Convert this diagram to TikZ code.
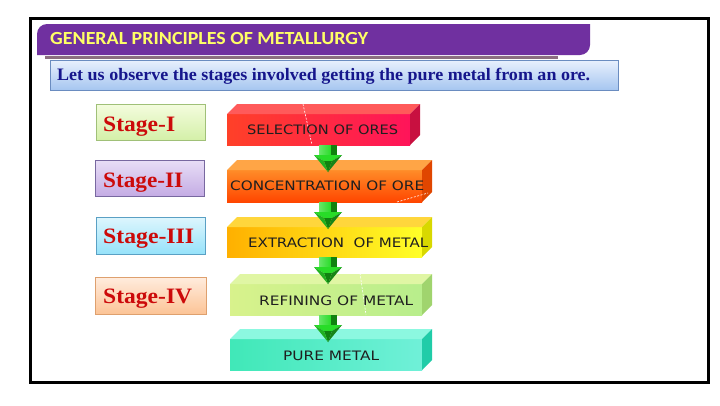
\documentclass[tikz,border=0pt]{standalone}
\usepackage{graphicx}
\usepackage{fontspec}
\setmainfont{Liberation Serif}
\newfontfamily\titlefont{Carlito}
\newfontfamily\blockfont{DejaVu Sans}
\usetikzlibrary{calc}
\definecolor{banner}{RGB}{112,48,160}
\definecolor{titleyel}{RGB}{255,255,102}
\definecolor{mauve}{RGB}{140,110,128}
\definecolor{navy}{RGB}{22,22,140}
\definecolor{stagered}{RGB}{204,10,10}
\definecolor{arrowg}{RGB}{40,220,40}
\definecolor{arrowd}{RGB}{16,130,16}
% subtitle box
\definecolor{subd}{RGB}{106,140,192}\definecolor{subt}{RGB}{232,240,253}\definecolor{subb}{RGB}{166,198,240}
% stage boxes
\definecolor{sAd}{RGB}{160,192,120}\definecolor{sAt}{RGB}{244,252,222}\definecolor{sAb}{RGB}{212,240,168}
\definecolor{sBd}{RGB}{120,104,160}\definecolor{sBt}{RGB}{232,222,246}\definecolor{sBb}{RGB}{196,172,228}
\definecolor{sCd}{RGB}{90,160,196}\definecolor{sCt}{RGB}{222,246,253}\definecolor{sCb}{RGB}{150,226,250}
\definecolor{sDd}{RGB}{222,160,110}\definecolor{sDt}{RGB}{255,236,222}\definecolor{sDb}{RGB}{252,196,150}
% blocks: front1, front2, top, side
\definecolor{bAa}{RGB}{255,64,40}\definecolor{bAb}{RGB}{255,20,90}\definecolor{bAt}{RGB}{255,90,90}\definecolor{bAs}{RGB}{200,16,64}
\definecolor{bBa}{RGB}{255,140,40}\definecolor{bBb}{RGB}{255,70,0}\definecolor{bBt}{RGB}{255,165,70}\definecolor{bBs}{RGB}{224,70,0}
\definecolor{bCa}{RGB}{255,176,0}\definecolor{bCb}{RGB}{255,255,40}\definecolor{bCt}{RGB}{255,214,60}\definecolor{bCs}{RGB}{216,216,0}
\definecolor{bDa}{RGB}{216,242,140}\definecolor{bDb}{RGB}{184,238,140}\definecolor{bDt}{RGB}{224,246,164}\definecolor{bDs}{RGB}{160,212,110}
\definecolor{bEa}{RGB}{64,232,184}\definecolor{bEb}{RGB}{112,240,216}\definecolor{bEt}{RGB}{140,248,224}\definecolor{bEs}{RGB}{32,204,168}
\newcommand{\fitto}[2]{\resizebox{#1}{\height}{#2}}
\tikzset{
  x=1pt,y=-1pt,
  face/.style={inner sep=0pt,outer sep=0pt,anchor=north west},
  stagebox/.style={inner sep=0pt,outer sep=0pt,anchor=north west,draw,line width=0.8pt},
  stagetext/.style={anchor=base west,inner sep=0pt,text=stagered,font=\fontsize{22}{22}\selectfont\bfseries},
  blocktext/.style={anchor=base west,inner sep=0pt,text=black!88,font=\blockfont\fontsize{13}{13}\selectfont},
  artifact/.style={white,line width=0.6pt,dash pattern=on 2pt off 1.5pt},
}
\newcommand{\blockthree}[3]{% node, top colour, side colour
  \fill[#2] (#1.north west) -- ++(10,-10) -- ($(#1.north east)+(10,-10)$) -- (#1.north east) -- cycle;
  \fill[#3] (#1.north east) -- ++(10,-10) -- ($(#1.south east)+(10,-10)$) -- (#1.south east) -- cycle;
}
\newcommand{\greenarrow}[2]{% name, y of block bottom
  \coordinate (#1) at (328,#2);
  \fill[left color=arrowg!70!white,right color=arrowg] ($(#1)+(-9,0)$) rectangle ($(#1)+(3,10)$);
  \fill[arrowd] ($(#1)+(3,0)$) rectangle ($(#1)+(9,10)$);
  \fill[arrowg] ($(#1)+(-14,10)$) -- ($(#1)+(14,10)$) -- ($(#1)+(4,16)$) -- ($(#1)+(-4,16)$) -- cycle;
  \fill[arrowd] ($(#1)+(-4,16)$) -- ($(#1)+(4,16)$) -- ($(#1)+(0,27)$) -- cycle;
  \fill[arrowg!60!black] ($(#1)+(4,16)$) -- ($(#1)+(14,10)$) -- ($(#1)+(0,27)$) -- cycle;
  \fill[arrowg!80!black] ($(#1)+(-4,16)$) -- ($(#1)+(-14,10)$) -- ($(#1)+(0,27)$) -- cycle;
}
\begin{document}
\begin{tikzpicture}
\useasboundingbox (0,0) rectangle (720,405);
\fill[white] (0,0) rectangle (720,405);
% outer frame
\draw[line width=3pt] (30.5,18.5) rectangle (708.5,382);
% banner
\fill[banner] (37,55) -- (37,34) .. controls (37,28.5) and (41.5,24) .. (47,24) -- (590,24) -- (590,45) .. controls (590,50.5) and (585.5,55) .. (580,55) -- cycle;
\node[anchor=base west,inner sep=0pt,text=titleyel,font=\titlefont\bfseries\fontsize{18.5}{18.5}\selectfont] (title) at (50,44.5) {\fitto{318pt}{GENERAL PRINCIPLES OF METALLURGY}};
\fill[mauve] (45,56) rectangle (558,59);
% subtitle box
\node[stagebox,draw=subd,top color=subt,bottom color=subb,minimum width=568pt,minimum height=30pt] (sub) at (50,60) {};
\node[anchor=base west,inner sep=0pt,text=navy,font=\fontsize{17.5}{17.5}\selectfont\bfseries] (subtext) at (57,80) {\fitto{533pt}{Let us observe the stages involved getting the pure metal from an ore.}};
% stage boxes
\node[stagebox,draw=sAd,top color=sAt,bottom color=sAb,minimum width=109pt,minimum height=36pt] (s1) at (96,104) {};
\node[stagebox,draw=sBd,top color=sBt,bottom color=sBb,minimum width=109pt,minimum height=36pt] (s2) at (95,160) {};
\node[stagebox,draw=sCd,top color=sCt,bottom color=sCb,minimum width=109pt,minimum height=37pt] (s3) at (96,217) {};
\node[stagebox,draw=sDd,top color=sDt,bottom color=sDb,minimum width=111pt,minimum height=37pt] (s4) at (95,277) {};
\node[stagetext] (st1) at (103,131) {\fitto{72pt}{Stage-I}};
\node[stagetext] (st2) at (103,187) {\fitto{80pt}{Stage-II}};
\node[stagetext] (st3) at (103,243) {\fitto{91pt}{Stage-III}};
\node[stagetext] (st4) at (103,303) {\fitto{89pt}{Stage-IV}};
% blocks
\node[face,left color=bAa,right color=bAb,minimum width=183pt,minimum height=31pt] (b1) at (227,114) {};
\blockthree{b1}{bAt}{bAs}
\node[face,top color=bBa,bottom color=bBb,minimum width=195pt,minimum height=32pt] (b2) at (227,170) {};
\blockthree{b2}{bBt}{bBs}
\node[face,left color=bCa,right color=bCb,minimum width=195pt,minimum height=30pt] (b3) at (227,227) {};
\blockthree{b3}{bCt}{bCs}
\node[face,left color=bDa,right color=bDb,minimum width=192pt,minimum height=31pt] (b4) at (230,284) {};
\blockthree{b4}{bDt}{bDs}
\node[face,left color=bEa,right color=bEb,minimum width=192pt,minimum height=31pt] (b5) at (230,339) {};
\blockthree{b5}{bEt}{bEs}
% artifacts
\draw[artifact] (303,104) -- (312,145);
\draw[artifact] (397,202) -- (428,193);
\draw[artifact] (360,273) -- (366,315);
% block texts
\node[blocktext] (t1) at (247,134) {\fitto{151pt}{SELECTION OF ORES}};
\node[blocktext] (t2) at (230,190) {\fitto{194pt}{CONCENTRATION OF ORE}};
\node[blocktext] (t3) at (248,247) {\fitto{180pt}{EXTRACTION\ \ OF METAL}};
\node[blocktext] (t4) at (259,305) {\fitto{154pt}{REFINING OF METAL}};
\node[blocktext] (t5) at (283,360) {\fitto{96pt}{PURE METAL}};
% arrows
\greenarrow{a1}{145}
\greenarrow{a2}{202}
\greenarrow{a3}{257}
\greenarrow{a4}{315}
\end{tikzpicture}
\end{document}
